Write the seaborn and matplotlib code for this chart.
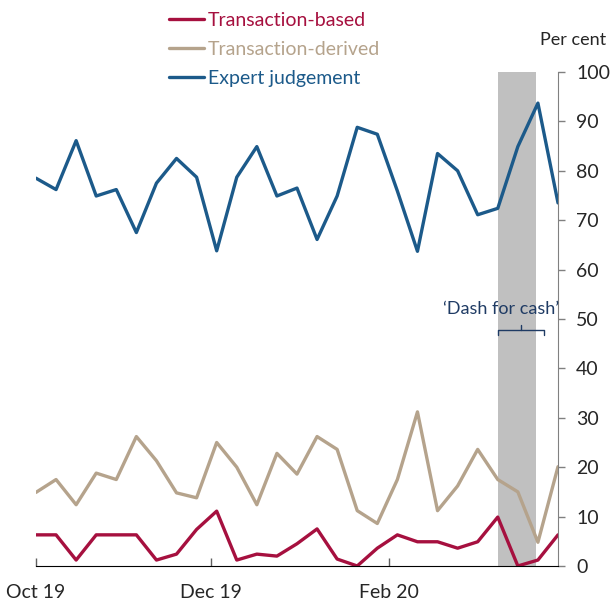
import numpy as np
import pandas as pd
import seaborn as sns
import matplotlib.pyplot as plt

# weekly observations, Oct 2019 - Mar 2020
dates = pd.date_range('2019-10-01', periods=27, freq='7D')

transaction_based = [6.3, 6.3, 1.2, 6.3, 6.3, 6.3, 1.2, 2.4, 7.4, 11.1, 1.2, 2.4, 2.0, 4.5,
                     7.5, 1.4, 0.0, 3.6, 6.3, 4.9, 4.9, 3.6, 4.9, 9.9, 0.0, 1.2, 6.3]
transaction_derived = [14.9, 17.5, 12.4, 18.8, 17.5, 26.2, 21.3, 14.8, 13.8, 25.0, 20.0, 12.4, 22.8, 18.6,
                       26.2, 23.6, 11.2, 8.6, 17.5, 31.2, 11.2, 16.2, 23.6, 17.5, 15.0, 4.8, 20.1]
expert_judgement = [78.5, 76.2, 86.1, 74.9, 76.2, 67.5, 77.5, 82.5, 78.7, 63.8, 78.7, 84.9, 74.9, 76.5,
                    66.1, 74.9, 88.8, 87.4, 75.9, 63.7, 83.5, 80.0, 71.1, 72.4, 84.9, 93.7, 73.5]

series_names = ['Transaction-based', 'Transaction-derived', 'Expert judgement']
colours = ['#a6103f', '#b5a38c', '#1c5a8a']

tick_dates = pd.to_datetime(['2019-10-01', '2019-12-01', '2020-02-01'])
tick_labels = ['Oct 19', 'Dec 19', 'Feb 20']

dash_start = pd.Timestamp('2020-03-10')
dash_end = pd.Timestamp('2020-03-23 12:00')

df = pd.DataFrame({
    'date': np.tile(dates, 3),
    'value': transaction_based + transaction_derived + expert_judgement,
    'series': np.repeat(series_names, len(dates)),
})

sns.set_style('white')
plt.rcParams['font.family'] = ['Lato', 'DejaVu Sans']

fig = plt.figure(figsize=(6.14, 6.03), dpi=100)
ax = fig.add_axes([0.0586, 0.0614, 0.8502, 0.8192])

ax.axvspan(dash_start, dash_end, color='#c0c0c0', lw=0, zorder=0)

sns.lineplot(data=df, x='date', y='value', hue='series', hue_order=series_names,
             palette=colours, linewidth=2.4, ax=ax, legend=False)

ax.set_xlim(dates[0], dates[-1])
ax.set_ylim(0, 100)
ax.set_yticks(range(0, 101, 10))
ax.yaxis.tick_right()
ax.set_xticks(tick_dates)
ax.set_xticklabels(tick_labels)
ax.set_xlabel('')
ax.set_ylabel('')

for s in ['top', 'left']:
    ax.spines[s].set_visible(False)
ax.spines['right'].set_color('#808080')
ax.spines['bottom'].set_color('black')
ax.tick_params(axis='y', direction='out', length=5, width=1, color='#808080',
               labelsize=14, pad=8, right=True, left=False)
ax.tick_params(axis='x', direction='in', length=6, width=1, color='#606060',
               labelsize=14, pad=13, bottom=True)

fig.text(573 / 614, 1 - 40 / 603, 'Per cent', ha='center', va='center', fontsize=13)

# legend
handles = [plt.Line2D([], [], color=c, lw=2.4) for c in colours]
ax.legend(handles, series_names, loc='upper left', bbox_to_anchor=(169 / 614, 1 - 12 / 603),
          bbox_transform=fig.transFigure, frameon=False, fontsize=14, handlelength=1.8,
          handletextpad=0.2, labelspacing=0.62, borderpad=0, borderaxespad=0,
          labelcolor='linecolor')

# dash for cash label with bracket
navy = '#1f3b64'
ax.text(pd.Timestamp('2020-03-11'), 52.0, '\u2018Dash for cash\u2019', ha='center', va='center',
        fontsize=13, color=navy)
b0, b1, bm = pd.Timestamp('2020-03-10'), pd.Timestamp('2020-03-26'), pd.Timestamp('2020-03-18')
ax.plot([b0, b0, b1, b1], [46.8, 47.8, 47.8, 46.8], color=navy, lw=1, clip_on=False)
ax.plot([bm, bm], [47.8, 48.8], color=navy, lw=1, clip_on=False)

fig.savefig('out.png', dpi=100)
